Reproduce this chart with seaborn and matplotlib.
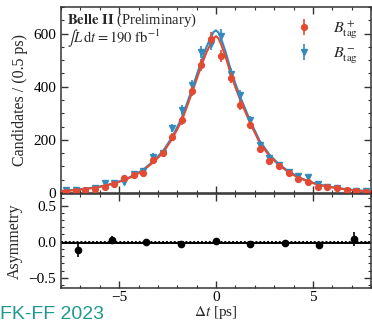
import numpy as np
import pandas as pd
import matplotlib
matplotlib.use("Agg")
import matplotlib.pyplot as plt
import seaborn as sns
from matplotlib.ticker import MultipleLocator

# ---------------- data ----------------
bin_centers = [-7.75, -7.25, -6.75, -6.25, -5.75, -5.25, -4.75, -4.25, -3.75, -3.25,
               -2.75, -2.25, -1.75, -1.25, -0.75, -0.25, 0.25, 0.75, 1.25, 1.75,
               2.25, 2.75, 3.25, 3.75, 4.25, 4.75, 5.25, 5.75, 6.25, 6.75, 7.25, 7.75]
counts_plus = [5, 8, 10, 14, 22, 33, 55, 67, 76, 124,
               151, 210, 273, 384, 482, 580, 517, 434, 330, 255,
               166, 121, 101, 74, 51, 42, 24, 24, 18, 11, 9, 5]
counts_minus = [10, 12, 8, 18, 36, 39, 42, 71, 84, 137,
                151, 244, 312, 405, 530, 561, 592, 449, 367, 274,
                182, 130, 107, 80, 64, 59, 33, 24, 18, 9, 9, 6]

fit_x = [-8.0, -7.75, -7.25, -6.75, -6.25, -5.75, -5.25, -4.75, -4.25, -3.75, -3.25,
         -2.75, -2.25, -1.75, -1.25, -1.0, -0.75, -0.5, -0.25, -0.125, 0.0, 0.125, 0.25,
         0.5, 0.75, 1.0, 1.25, 1.75, 2.25, 2.75, 3.25, 3.75, 4.25, 4.75, 5.25, 5.75,
         6.25, 6.75, 7.25, 7.75, 8.0]
fit_plus = [7, 8, 11, 15, 20, 27, 36, 48, 64, 85, 115,
            150, 205, 275, 375, 428, 480, 528, 565, 582, 590, 582, 562,
            512, 450, 398, 350, 265, 190, 140, 105, 78, 58, 43, 32, 24,
            18, 13, 10, 7, 6]
fit_minus = [8, 9, 12, 16, 21, 28, 37, 50, 66, 88, 119,
             156, 212, 285, 388, 443, 497, 548, 588, 606, 612, 604, 584,
             530, 466, 412, 362, 274, 197, 145, 108, 81, 60, 45, 33, 25,
             19, 14, 10, 7, 6]

asym_x = [-7.1, -5.35, -3.6, -1.8, 0.0, 1.75, 3.55, 5.3, 7.1]
asym_y = [-0.12, 0.03, 0.0, -0.03, 0.01, -0.03, -0.015, -0.05, 0.04]
asym_err = [0.09, 0.05, 0.02, 0.02, 0.02, 0.02, 0.02, 0.04, 0.10]
asym_fit_x = [-8.0, -4.0, 0.0, 4.0, 8.0]
asym_fit_y = [-0.02, -0.02, -0.02, -0.02, -0.02]

label_plus = r"$B^+_{\rm tag}$"
label_minus = r"$B^-_{\rm tag}$"

RED = "#E24A33"
BLUE = "#348ABD"

# ---------------- style ----------------
sns.set_theme(style="ticks")
plt.rcParams["font.family"] = ["Liberation Serif", "DejaVu Serif"]
plt.rcParams["mathtext.fontset"] = "stix"
plt.rcParams["axes.edgecolor"] = "#333333"
plt.rcParams["axes.linewidth"] = 1.1
plt.rcParams["xtick.direction"] = "in"
plt.rcParams["ytick.direction"] = "in"
plt.rcParams["xtick.color"] = "#333333"
plt.rcParams["ytick.color"] = "#333333"
plt.rcParams["xtick.labelcolor"] = "black"
plt.rcParams["ytick.labelcolor"] = "black"

fig = plt.figure(figsize=(3.72, 3.24), dpi=100)
W, H = 372.0, 324.0
left = 61 / W
width = (371 - 61) / W
ax1 = fig.add_axes([left, 1 - 193 / H, width, (193 - 7) / H])
ax2 = fig.add_axes([left, 1 - 288 / H, width, (288 - 194) / H])

df_fit = pd.DataFrame({"x": fit_x, "plus": fit_plus, "minus": fit_minus})
sns.lineplot(data=df_fit, x="x", y="minus", ax=ax1, color=BLUE, lw=1.5, zorder=2)
sns.lineplot(data=df_fit, x="x", y="plus", ax=ax1, color=RED, lw=1.5, zorder=3)

cp = np.array(counts_plus, float)
cm = np.array(counts_minus, float)
ax1.errorbar(bin_centers, cm, yerr=np.sqrt(cm), fmt="v", color=BLUE, ms=5,
             elinewidth=1.2, capsize=0, zorder=4, label=label_minus)
ax1.errorbar(bin_centers, cp, yerr=np.sqrt(cp), fmt="o", color=RED, ms=4.2,
             elinewidth=1.2, capsize=0, zorder=5, label=label_plus)

ax1.set_xlim(-8, 8)
ax1.set_ylim(0, 700)
ax1.yaxis.set_major_locator(MultipleLocator(200))
ax1.yaxis.set_minor_locator(MultipleLocator(50))
ax1.xaxis.set_major_locator(MultipleLocator(5))
ax1.xaxis.set_minor_locator(MultipleLocator(1))
ax1.tick_params(axis="x", labelbottom=False)
ax1.tick_params(which="both", top=True, right=True)
ax1.tick_params(which="major", length=5, width=1, labelsize=11)
ax1.tick_params(which="minor", length=2.5, width=0.8)
ax1.set_xlabel("")
ax1.set_ylabel("Candidates / (0.5 ps)", fontsize=11.5)

handles, labels = ax1.get_legend_handles_labels()
order = [labels.index(label_plus), labels.index(label_minus)]
ax1.legend([handles[i] for i in order], [labels[i] for i in order],
           loc="upper right", frameon=False, fontsize=11.5, handlelength=1.2,
           borderaxespad=0.4, labelspacing=0.3, handletextpad=1.2)

ax1.text(0.02, 0.975, r"$\mathbf{Belle\ II}$ (Preliminary)", transform=ax1.transAxes,
         ha="left", va="top", fontsize=10.5)
ax1.text(0.02, 0.885, r"$\int L\,\mathrm{d}t = 190\ \mathrm{fb}^{-1}$", transform=ax1.transAxes,
         ha="left", va="top", fontsize=10.5)

# asymmetry panel
df_af = pd.DataFrame({"x": asym_fit_x, "y": asym_fit_y})
sns.lineplot(data=df_af, x="x", y="y", ax=ax2, color="black", lw=1.4, zorder=2)
ax2.axhline(0.0, color="black", lw=1.4, ls=(0, (1, 1)), zorder=1)
ax2.errorbar(asym_x, asym_y, yerr=asym_err, fmt="o", color="black", ms=4.5,
             elinewidth=1.2, capsize=0, zorder=3)
ax2.set_xlim(-8, 8)
ax2.set_ylim(-0.64, 0.66)
ax2.yaxis.set_major_locator(MultipleLocator(0.5))
ax2.yaxis.set_minor_locator(MultipleLocator(0.1))
ax2.xaxis.set_major_locator(MultipleLocator(5))
ax2.xaxis.set_minor_locator(MultipleLocator(1))
ax2.tick_params(which="both", top=True, right=True)
ax2.tick_params(which="major", length=5, width=1, labelsize=11)
ax2.tick_params(axis="x", which="major", pad=2)
ax2.tick_params(which="minor", length=2.5, width=0.8)
ax2.yaxis.set_major_formatter(matplotlib.ticker.FuncFormatter(
    lambda v, p: ("\u2212" if v < -1e-9 else "") + f"{abs(v):.1f}"))
ax2.set_xlabel(r"$\Delta t$ [ps]", fontsize=11)
ax2.xaxis.set_label_coords(0.5, -0.175)
ax2.set_ylabel("Asymmetry", fontsize=11.5)

fig.text(0.0, 0.004, "FK-FF 2023", color="#1f9a8c", fontsize=14,
         family=["Liberation Sans", "DejaVu Sans"], ha="left", va="bottom")

fig.savefig("out.png", dpi=100)
